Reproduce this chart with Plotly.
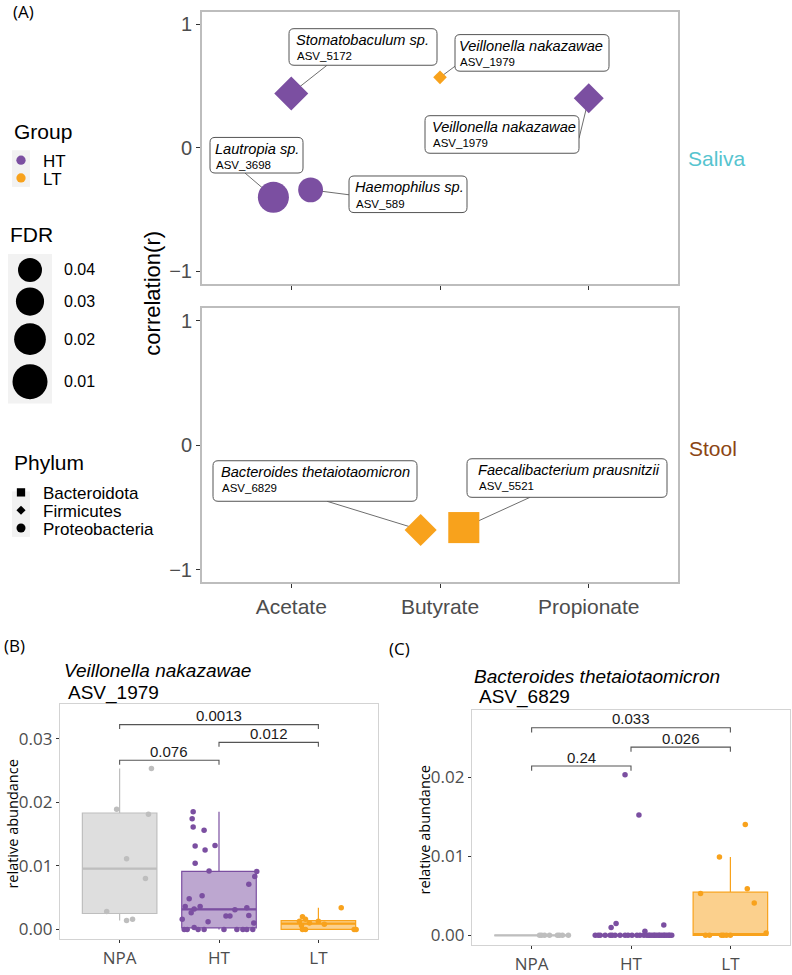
import numpy as np
import plotly.graph_objects as go

W, H = 792, 975
SANS = "Liberation Sans, Arial, sans-serif"
OPEN = "Open Sans, sans-serif"

# ---------------- data: panel (A) ----------------
scfa_levels = ["Acetate", "Butyrate", "Propionate"]
a_taxon = ["Stomatobaculum sp.", "Lautropia sp.", "Haemophilus sp.",
           "Veillonella nakazawae", "Veillonella nakazawae",
           "Bacteroides thetaiotaomicron", "Faecalibacterium prausnitzii"]
a_asv = ["ASV_5172", "ASV_3698", "ASV_589", "ASV_1979", "ASV_1979", "ASV_6829", "ASV_5521"]
a_site = ["Saliva", "Saliva", "Saliva", "Saliva", "Saliva", "Stool", "Stool"]
a_scfa = ["Acetate", "Acetate", "Acetate", "Butyrate", "Propionate", "Butyrate", "Butyrate"]
a_group = ["HT", "HT", "HT", "LT", "HT", "LT", "LT"]
a_phylum = ["Firmicutes", "Proteobacteria", "Proteobacteria", "Firmicutes",
            "Firmicutes", "Firmicutes", "Bacteroidota"]
a_r = [0.44, -0.40, -0.34, 0.57, 0.40, -0.68, -0.66]
a_fdr = [0.013, 0.022, 0.038, 0.058, 0.025, 0.019, 0.022]
a_dodge = [0.0, -0.12, 0.13, 0.0, 0.0, -0.13, 0.16]

fdr_breaks = [0.04, 0.03, 0.02, 0.01]
group_levels = ["HT", "LT"]
phylum_levels = ["Bacteroidota", "Firmicutes", "Proteobacteria"]

# ---------------- data: panels (B) and (C) ----------------
box_groups = ["NPA", "HT", "LT"]

b_npa = [0.0253, 0.0189, 0.0181, 0.0111, 0.0080, 0.0028, 0.0014, 0.0016]
b_npa_jit = [0.32, -0.03, 0.29, 0.07, 0.26, -0.13, 0.07, 0.13]
b_ht = [0.0185, 0.0174, 0.0161, 0.0156, 0.0131, 0.0125, 0.0132, 0.0104, 0.0092,
        0.0091, 0.0083, 0.0071, 0.0048, 0.0053, 0.0036, 0.0032, 0.0026, 0.0036,
        0.0031, 0.0034, 0.0021, 0.0021, 0.0022, 0.0016, 0.0012, 0.0010, 0.0003,
        0, 0, 0, 0, 0, 0, 0, 0, 0]
b_ht_jit = [-0.26, -0.27, -0.26, -0.15, -0.24, -0.14, -0.04, -0.24, -0.10,
            0.38, 0.36, 0.30, -0.30, -0.17, -0.34, -0.25, -0.28, -0.19,
            0.16, 0.28, 0.07, 0.11, 0.30, -0.37, -0.11, 0.35, -0.25,
            -0.35, -0.32, -0.21, -0.15, 0.05, 0.18, 0.24, 0.28, 0.34]
b_lt = [0.0034, 0.0020, 0.0016, 0.0013, 0.0013, 0.0010, 0.0008, 0.0006, 0, 0, 0, 0]
b_lt_jit = [0.23, -0.16, -0.13, -0.19, 0.00, -0.09, 0.06, -0.17, -0.16, -0.13, 0.36, 0.38]
b_brackets = [("NPA", "HT", "0.076", 0.0266),
              ("HT", "LT", "0.012", 0.0294),
              ("NPA", "LT", "0.0013", 0.0322)]

c_npa = [0, 0, 0, 0, 0, 0, 0, 0]
c_npa_jit = [0.08, 0.10, 0.13, 0.18, 0.26, 0.28, 0.31, 0.37]
c_ht = [0.0203, 0.0152, 0.0015, 0.0010, 0.0013, 0.0005] + [0] * 30
c_ht_jit = [-0.06, 0.08, -0.15, -0.20, 0.33, 0.14,
            -0.36, -0.33, -0.31, -0.26, -0.21, -0.19, -0.16, -0.11, -0.06, -0.03,
            0.01, 0.06, 0.09, 0.13, 0.16, 0.18, 0.19, 0.21, 0.23, 0.24,
            0.26, 0.28, 0.29, 0.31, 0.33, 0.34, 0.36, 0.38, 0.39, 0.41]
c_lt = [0.0140, 0.0099, 0.0059, 0.0053, 0.0041, 0.0003, 0, 0, 0, 0, 0, 0]
c_lt_jit = [0.15, -0.11, 0.17, -0.30, 0.24, 0.36, -0.25, -0.21, -0.09, -0.07, 0.00, -0.04]
c_brackets = [("NPA", "HT", "0.24", 0.0214),
              ("HT", "LT", "0.026", 0.0238),
              ("NPA", "LT", "0.033", 0.02625)]

# ---------------- styles ----------------
PURPLE = "#7B4FA1"
ORANGE = "#F8A21C"
GRAY = "#BEBEBE"
group_color = {"NPA": GRAY, "HT": PURPLE, "LT": ORANGE}
group_fill = {"NPA": "rgba(190,190,190,0.5)", "HT": "rgba(123,79,161,0.5)",
              "LT": "rgba(248,162,28,0.5)"}
phylum_symbol = {"Bacteroidota": "square", "Firmicutes": "diamond", "Proteobacteria": "circle"}


def fdr_diam(f):
    return float(np.sqrt(1441 - 21633 * f))


def msize(f, sym):
    d = fdr_diam(f)
    return d / 1.3 if sym == "diamond" else d


# panel geometry in pixels
P = {
    "A1": dict(x0=202, x1=678, y0=12, y1=287, xr=(0.4, 3.6), yr=(-1.1, 1.1), xa="x", ya="y"),
    "A2": dict(x0=202, x1=678, y0=312, y1=589, xr=(0.4, 3.6), yr=(-1.1, 1.1), xa="x2", ya="y2"),
    "B": dict(x0=60, x1=378, y0=712, y1=950, xr=(0.4, 3.6),
              yr=(-(950 - 940) / 6433, (940 - 712) / 6433), xa="x3", ya="y3"),
    "C": dict(x0=472, x1=790, y0=718, y1=956, xr=(0.4, 3.6),
              yr=(-(956 - 946) / 8000, (946 - 718) / 8000), xa="x4", ya="y4"),
}


def to_data(p, px, py):
    x = p["xr"][0] + (px - p["x0"]) / (p["x1"] - p["x0"]) * (p["xr"][1] - p["xr"][0])
    y = p["yr"][1] - (py - p["y0"]) / (p["y1"] - p["y0"]) * (p["yr"][1] - p["yr"][0])
    return x, y


def pxp(x):
    return x / W


def pyp(y):
    return 1 - y / H


fig = go.Figure()
annotations = []
shapes = []


def text(x, y, s, size, family=SANS, color="black", xanchor="left", angle=0, **kw):
    annotations.append(dict(x=pxp(x), y=pyp(y), xref="paper", yref="paper", text=s,
                            showarrow=False, xanchor=xanchor, yanchor="middle",
                            textangle=angle,
                            font=dict(family=family, size=size, color=color), **kw))


# ---------------- panel (A) points ----------------
a_x = [scfa_levels.index(s) + 1 + d for s, d in zip(a_scfa, a_dodge)]
for key, site in (("A1", "Saliva"), ("A2", "Stool")):
    idx = [i for i, s in enumerate(a_site) if s == site]
    syms = [phylum_symbol[a_phylum[i]] for i in idx]
    fig.add_trace(go.Scatter(
        x=[a_x[i] for i in idx], y=[a_r[i] for i in idx], mode="markers",
        marker=dict(symbol=syms, size=[msize(a_fdr[i], s) for i, s in zip(idx, syms)],
                    color=[group_color[a_group[i]] for i in idx], line=dict(width=0),
                    opacity=1),
        xaxis=P[key]["xa"], yaxis=P[key]["ya"], showlegend=False, cliponaxis=False,
        hoverinfo="skip"))

# repel labels (layout in pixels): box, text x, segment start
label_layout = {
    0: dict(p="A1", box=(289, 29, 437, 66), tx=294, seg=(327, 66)),
    3: dict(p="A1", box=(455, 35, 609, 72), tx=457, seg=(455, 67)),
    4: dict(p="A1", box=(425, 117, 579, 155), tx=430, seg=(579, 140)),
    1: dict(p="A1", box=(210, 139, 303, 175), tx=213, seg=(245, 175)),
    2: dict(p="A1", box=(349, 178, 467, 215), tx=353, seg=(349, 197)),
    5: dict(p="A2", box=(213, 466, 417, 507), tx=219, seg=(327, 507)),
    6: dict(p="A2", box=(467, 464, 667, 503), tx=476, seg=(530, 503)),
}


def rrect(x0, y0, x1, y1, r=5):
    X = pxp
    Y = pyp
    return (f"M {X(x0 + r)},{Y(y0)} L {X(x1 - r)},{Y(y0)} Q {X(x1)},{Y(y0)} {X(x1)},{Y(y0 + r)} "
            f"L {X(x1)},{Y(y1 - r)} Q {X(x1)},{Y(y1)} {X(x1 - r)},{Y(y1)} "
            f"L {X(x0 + r)},{Y(y1)} Q {X(x0)},{Y(y1)} {X(x0)},{Y(y1 - r)} "
            f"L {X(x0)},{Y(y0 + r)} Q {X(x0)},{Y(y0)} {X(x0 + r)},{Y(y0)} Z")


for i, L in label_layout.items():
    p = P[L["p"]]
    sx, sy = to_data(p, *L["seg"])
    shapes.append(dict(type="line", xref=p["xa"], yref=p["ya"], x0=sx, y0=sy,
                       x1=a_x[i], y1=a_r[i], line=dict(color="#6E6E6E", width=1),
                       layer="below"))
    bx0, by0, bx1, by1 = L["box"]
    shapes.append(dict(type="path", xref="paper", yref="paper", path=rrect(bx0, by0, bx1, by1),
                       fillcolor="white", line=dict(color="#555555", width=1), layer="above"))
    text(L["tx"], by0 + 11.5, f"<i>{a_taxon[i]}</i>", 14.6)
    text(L["tx"] + 1, by0 + 28, a_asv[i], 11.5)

# ---------------- legends (hidden axis, pixel units) ----------------
LX = dict(domain=[0, 198 / W], range=[0, 198], visible=False)
LY = dict(domain=[1 - 600 / H, 1], range=[600, 0], visible=False)
# key backgrounds
for (x0, y0, x1, y1) in [(12, 152, 30, 189), (8, 257, 52, 408), (12, 497, 30, 543)]:
    shapes.append(dict(type="rect", xref="paper", yref="paper", x0=pxp(x0), x1=pxp(x1),
                       y0=pyp(y1), y1=pyp(y0), fillcolor="#F2F2F2", line=dict(width=0),
                       layer="below"))
grp_y = [162, 180]
fig.add_trace(go.Scatter(x=[21, 21], y=grp_y, mode="markers",
                         marker=dict(size=9.3, color=[group_color[g] for g in group_levels],
                                     opacity=1),
                         xaxis="x5", yaxis="y5", showlegend=False, hoverinfo="skip",
                         cliponaxis=False))
fdr_y = [273, 305, 343, 386]
fig.add_trace(go.Scatter(x=[30] * 4, y=fdr_y, mode="markers",
                         marker=dict(size=[fdr_diam(f) for f in fdr_breaks], color="#000000",
                                     opacity=1, line=dict(width=0)),
                         xaxis="x5", yaxis="y5", showlegend=False, hoverinfo="skip",
                         cliponaxis=False))
phy_y = [498, 516, 534]
fig.add_trace(go.Scatter(x=[21] * 3, y=phy_y, mode="markers",
                         marker=dict(symbol=[phylum_symbol[p] for p in phylum_levels],
                                     size=[8.3, 7, 9], color="#000000", opacity=1,
                                     line=dict(width=0)),
                         xaxis="x5", yaxis="y5", showlegend=False, hoverinfo="skip",
                         cliponaxis=False))


def key_block(x, ys, labels, size=17):
    # one multi-line text block; line spacing 1.3 x base font = key spacing
    step = ys[1] - ys[0]
    s = "<br>".join(f"<span style='font-size:{size}px'>{t}</span>" for t in labels)
    text(x, sum(ys) / len(ys) + 1, s, step / 1.3, align="left")


text(12, 133, "Group", 21)
key_block(41, grp_y, group_levels)
text(8, 237, "FDR", 21)
for f, y in zip(fdr_breaks, fdr_y):
    text(62, y, f"{f:.2f}", 16)
text(12, 468, "Phylum", 21)
key_block(41, phy_y, phylum_levels)

# panel (A) texts
text(11, 12, "(A)", 17, family=OPEN)
text(153, 297, "correlation(r)", 22, xanchor="center", angle=-90)
text(686, 160, "Saliva", 21, color="#56C4CF")
text(687, 454, "Stool", 21, color="#8B4513")


# ---------------- panels (B) and (C) ----------------
def box_panel(key, series, jitters, brackets, tip):
    p = P[key]
    for k, (g, vals, jit) in enumerate(zip(box_groups, series, jitters)):
        v = np.array(vals, dtype=float)
        q1, med, q3 = np.percentile(v, [25, 50, 75])
        iqr = q3 - q1
        lf = v[v >= q1 - 1.5 * iqr].min()
        uf = v[v <= q3 + 1.5 * iqr].max()
        pos = k + 1
        fig.add_trace(go.Box(x=[pos], q1=[q1], median=[med], q3=[q3], lowerfence=[lf],
                             upperfence=[uf], width=0.75, orientation="v",
                             fillcolor=group_fill[g], line=dict(color=group_color[g], width=1.2),
                             whiskerwidth=0, boxpoints=False, xaxis=p["xa"], yaxis=p["ya"],
                             showlegend=False, hoverinfo="skip"))
        fig.add_trace(go.Scatter(x=[pos - 0.375, pos + 0.375], y=[med, med], mode="lines",
                                 line=dict(color=group_color[g], width=2.2),
                                 xaxis=p["xa"], yaxis=p["ya"], showlegend=False,
                                 hoverinfo="skip"))
        fig.add_trace(go.Scatter(x=pos + np.array(jit), y=v, mode="markers",
                                 marker=dict(size=5.5, color=group_color[g], line=dict(width=0),
                                             opacity=1),
                                 xaxis=p["xa"], yaxis=p["ya"], showlegend=False,
                                 hoverinfo="skip", cliponaxis=False))
    for g1, g2, lab, yb in brackets:
        i1 = box_groups.index(g1) + 1
        i2 = box_groups.index(g2) + 1
        shapes.append(dict(type="path", xref=p["xa"], yref=p["ya"],
                           path=f"M {i1},{yb - tip} L {i1},{yb} L {i2},{yb} L {i2},{yb - tip}",
                           line=dict(color="#555555", width=1.1)))
        annotations.append(dict(x=(i1 + i2) / 2, y=yb, xref=p["xa"], yref=p["ya"], text=lab,
                                showarrow=False, xanchor="center", yanchor="middle", yshift=9,
                                font=dict(family=SANS, size=15, color="#1A1A1A")))


box_panel("B", [b_npa, b_ht, b_lt], [b_npa_jit, b_ht_jit, b_lt_jit], b_brackets, 0.0007)
box_panel("C", [c_npa, c_ht, c_lt], [c_npa_jit, c_ht_jit, c_lt_jit], c_brackets, 0.0006)

text(2, 653, "(B)", 17, family=OPEN)
text(62, 678, "<i>Veillonella nakazawae</i>", 19)
text(66, 701, "ASV_1979", 19)
text(13, 834, "relative abundance", 14.5, family=OPEN, xanchor="center", angle=-90)

text(387, 656, "(C)", 17, family=OPEN)
text(472, 684, "<i>Bacteroides thetaiotaomicron</i>", 19)
text(477, 705, "ASV_6829", 19)
text(425, 840, "relative abundance", 14.5, family=OPEN, xanchor="center", angle=-90)


# ---------------- axes ----------------
def dom_x(p):
    return [p["x0"] / W, p["x1"] / W]


def dom_y(p):
    return [1 - p["y1"] / H, 1 - p["y0"] / H]


axA = dict(showline=True, mirror=True, linecolor="#BDBDBD", linewidth=2, ticks="outside",
           ticklen=4, tickcolor="#333333", tickwidth=1, showgrid=False, zeroline=False)
axBC = dict(showline=True, mirror=True, linecolor="#D3D3D3", linewidth=1.3, ticks="outside",
            ticklen=3, tickcolor="#333333", tickwidth=1, showgrid=False, zeroline=False)
fA = dict(family=SANS, size=20, color="#4D4D4D")
fBC = dict(family=OPEN, size=17, color="#4D4D4D")

layout_axes = dict(
    xaxis=dict(axA, domain=dom_x(P["A1"]), range=list(P["A1"]["xr"]), anchor="y",
               tickvals=[1, 2, 3], showticklabels=False),
    yaxis=dict(axA, domain=dom_y(P["A1"]), range=list(P["A1"]["yr"]), anchor="x",
               tickvals=[-1, 0, 1], tickfont=fA),
    xaxis2=dict(axA, domain=dom_x(P["A2"]), range=list(P["A2"]["xr"]), anchor="y2",
                tickvals=[1, 2, 3], ticktext=scfa_levels, tickfont=dict(fA, size=21)),
    yaxis2=dict(axA, domain=dom_y(P["A2"]), range=list(P["A2"]["yr"]), anchor="x2",
                tickvals=[-1, 0, 1], tickfont=fA),
    xaxis3=dict(axBC, domain=dom_x(P["B"]), range=list(P["B"]["xr"]), anchor="y3",
                tickvals=[1, 2, 3], ticktext=box_groups, tickfont=fBC),
    yaxis3=dict(axBC, domain=dom_y(P["B"]), range=list(P["B"]["yr"]), anchor="x3",
                tickvals=[0, 0.01, 0.02, 0.03], tickformat=".2f", tickfont=fBC),
    xaxis4=dict(axBC, domain=dom_x(P["C"]), range=list(P["C"]["xr"]), anchor="y4",
                tickvals=[1, 2, 3], ticktext=box_groups, tickfont=fBC),
    yaxis4=dict(axBC, domain=dom_y(P["C"]), range=list(P["C"]["yr"]), anchor="x4",
                tickvals=[0, 0.01, 0.02], tickformat=".2f", tickfont=fBC),
    xaxis5=dict(LX, anchor="y5"),
    yaxis5=dict(LY, anchor="x5"),
)

fig.update_layout(
    width=W, height=H, autosize=False,
    margin=dict(l=0, r=0, t=0, b=0, pad=0),
    paper_bgcolor="white", plot_bgcolor="rgba(0,0,0,0)",
    showlegend=False, boxmode="overlay",
    annotations=annotations, shapes=shapes,
    **layout_axes,
)

fig.write_html("out.html", config={"displayModeBar": False},
               post_script="document.body.style.margin='0';document.body.style.overflow='hidden';")
